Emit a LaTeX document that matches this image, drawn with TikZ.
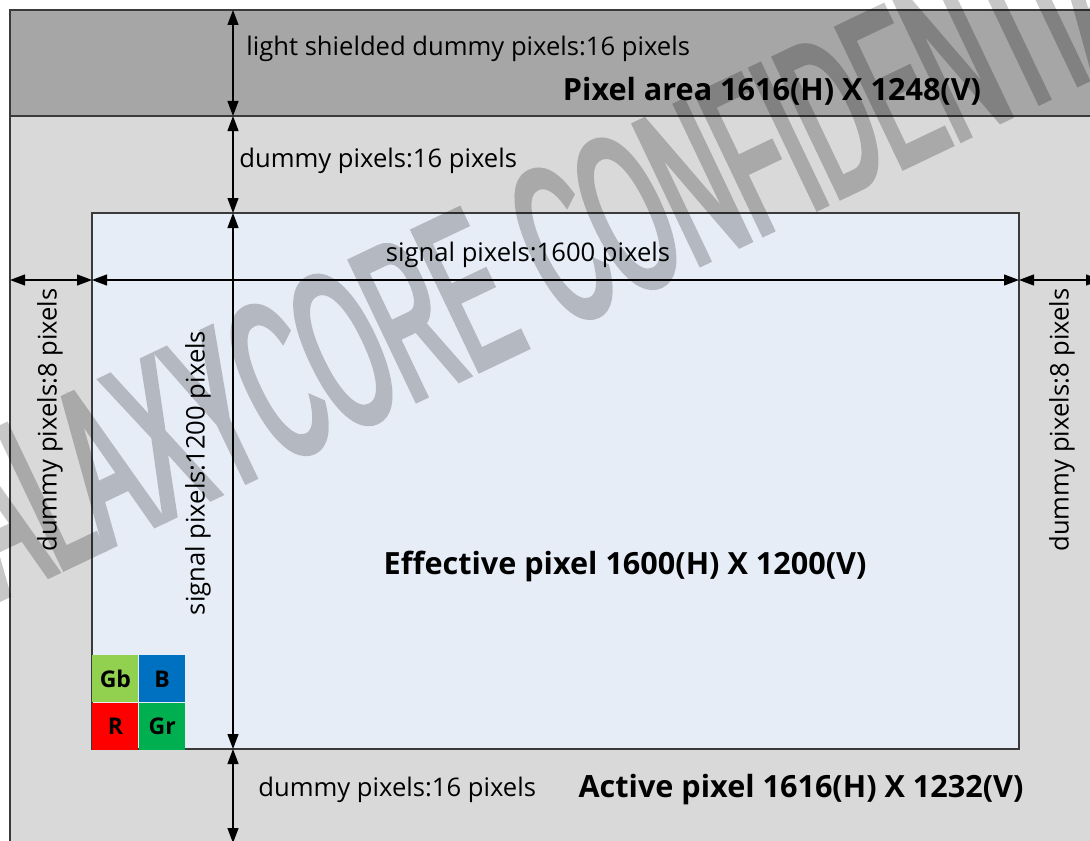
\documentclass[tikz,border=0pt]{standalone}
\usepackage{fontspec}
\setmainfont{Open Sans}
\newfontfamily\stampfont[FakeStretch=0.43, FakeBold=2.5]{Liberation Sans}
\usetikzlibrary{arrows.meta,positioning}

\definecolor{shieldgray}{HTML}{A6A6A6}
\definecolor{dummygray}{HTML}{D9D9D9}
\definecolor{effblue}{HTML}{E7EDF7}
\definecolor{edgegray}{HTML}{3A3A3A}
\definecolor{gbgreen}{HTML}{92D050}
\definecolor{bblue}{HTML}{0070C0}
\definecolor{rred}{HTML}{FF0000}
\definecolor{grgreen}{HTML}{00B050}

\begin{document}
\begin{tikzpicture}[x=0.5pt, y=-0.5pt,
    every node/.style={inner sep=0pt, font=\fontsize{12.8}{15}\selectfont},
    dim/.style={{Triangle[length=7.5pt,width=5.5pt]}-{Triangle[length=7.5pt,width=5.5pt]}, line width=0.6pt},
    edge/.style={draw=edgegray, line width=0.6pt},
    boldlabel/.style={font=\fontsize{15.3}{18}\selectfont\bfseries},
    bayer/.style={minimum width=23pt, minimum height=23.5pt, font=\fontsize{11.5}{13}\selectfont\bfseries},
    stamp/.style={rotate=25.5, text=black, font=\stampfont\fontsize{112}{112}\selectfont}]

    \useasboundingbox (0,0) rectangle (1090,840);
    \clip (0,0) rectangle (1090,840);

    % pixel area
    \fill[dummygray] (10,10) rectangle (1101,843);
    \fill[shieldgray] (10,10) rectangle (1101,116);
    \draw[edge] (10,843) -- (10,10) -- (1101,10);
    \draw[edge, line width=1pt] (10,10) -- (1101,10);
    \draw[edge] (10,116) -- (1101,116);
    \draw[edge, fill=effblue] (92,213) rectangle (1019,749);

    % bayer pattern
    \node[bayer, fill=gbgreen, anchor=north west] (gb) at (92,655) {Gb};
    \node[bayer, fill=bblue, right=0pt of gb] (b) {B};
    \node[bayer, fill=rred, below=0pt of gb] (r) {R};
    \node[bayer, fill=grgreen, right=0pt of r] (gr) {Gr};

    \coordinate (v0) at (233,10);
    \coordinate (v1) at (233,116);
    \coordinate (v2) at (233,213);
    \coordinate (v3) at (233,749);
    \coordinate (v4) at (233,843);
    \coordinate (h0) at (10,280);
    \coordinate (h1) at (92,280);
    \coordinate (h2) at (1019,280);
    \coordinate (h3) at (1101,280);

    \draw[dim] (v0) -- (v1);
    \draw[dim] (v1) -- (v2);
    \draw[dim] (v2) -- (v3);
    \draw[dim] (v3) -- (v4);
    \draw[dim] (h0) -- (h1);
    \draw[dim] (h1) -- (h2);
    \draw[dim] (h2) -- (h3);

    % labels
    \node[anchor=west] (shield) at (246,49) {light shielded dummy pixels:16 pixels};
    \node[boldlabel] (area) at (772,91) {Pixel area 1616(H) X 1248(V)};
    \node[anchor=west] (dtop) at (239,161) {dummy pixels:16 pixels};
    \node (sigh) at (528,255) {signal pixels:1600 pixels};
    \node[rotate=90] (dleft) at (50,420) {dummy pixels:8 pixels};
    \node[rotate=90] (dright) at (1062,420) {dummy pixels:8 pixels};
    \node[rotate=90] (sigv) at (198,473) {signal pixels:1200 pixels};
    \node[boldlabel] (eff) at (625,566) {Effective pixel 1600(H) X 1200(V)};
    \node[anchor=west] (dbot) at (258,790) {dummy pixels:16 pixels};
    \node[boldlabel] (act) at (801,790) {Active pixel 1616(H) X 1232(V)};

    % watermark
    \begin{scope}[transparency group, opacity=0.22]
    \node[stamp, anchor=east] (wm1) at (498,276) {GALAXYCORE};
    \node[stamp, anchor=west] (wm2) at (530,260) {CONFIDENTIAL};
    \end{scope}

\end{tikzpicture}
\end{document}
